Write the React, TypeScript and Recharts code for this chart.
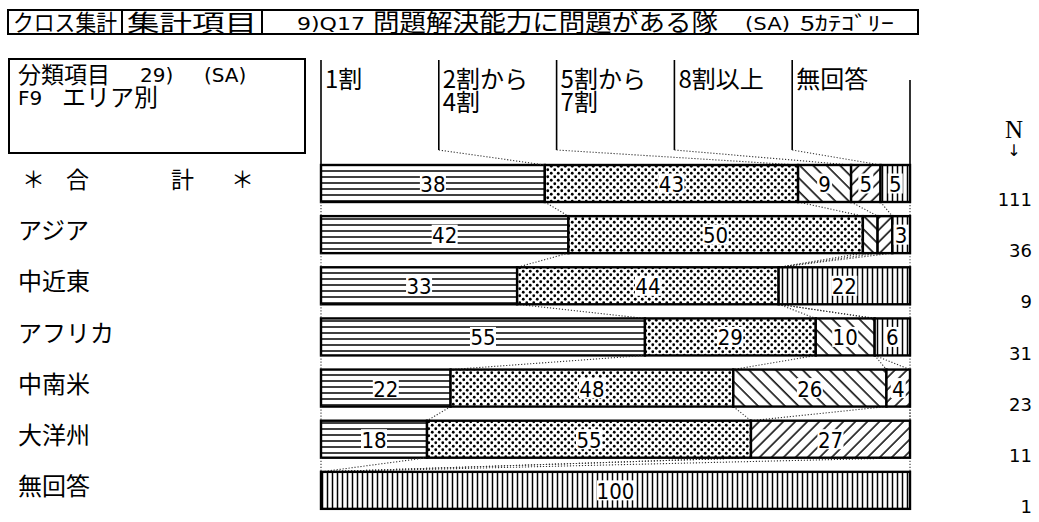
import React from 'react';
import { BarChart, Bar, XAxis, YAxis } from 'recharts';

// ---------- data ----------
const CATEGORIES = ['＊合計＊', 'アジア', '中近東', 'アフリカ', '中南米', '大洋州', '無回答'];
const N_VALUES = [111, 36, 9, 31, 23, 11, 1];
const SERIES = ['1割', '2割から4割', '5割から7割', '8割以上', '無回答'];
const S_1WARI = [38, 42, 33.3, 55, 22, 18, 0];
const S_2TO4 = [43, 50, 44.4, 29, 48, 55, 0];
const S_5TO7 = [9, 2.5, 0, 10, 26, 0, 0];
const S_8PLUS = [5, 2.5, 0, 0, 4, 27, 0];
const S_NA = [5, 3, 22.3, 6, 0, 0, 100];

const VALUES = [S_1WARI, S_2TO4, S_5TO7, S_8PLUS, S_NA];
const KEYS = SERIES.map((_, k) => `s${k}`);
const data = CATEGORIES.map((name, i) => {
  const row: any = { name, n: N_VALUES[i] };
  VALUES.forEach((arr, k) => {
    row[KEYS[k]] = arr[i];
  });
  return row;
});

// ---------- layout / style ----------
const W = 1039;
const H = 522;
const MARGIN = { top: 158, right: 129, bottom: 6, left: 0 };
const YAXIS_W = 321;
const BAR_SIZE = 37;
const BAND = (H - MARGIN.top - MARGIN.bottom) / CATEGORIES.length;
const LEGEND_TOP = 60;
const LEGEND_BOTTOM = 150;
const LEGEND_RIGHT_TOP = 80;

const JP = "'Noto Sans CJK JP', 'Noto Sans CJK SC', sans-serif";
const NUM = "'Liberation Sans Narrow', 'DejaVu Sans Condensed', 'Liberation Sans', sans-serif";
const MONO = "'DejaVu Sans', sans-serif";

const DOT = { stroke: '#333', strokeWidth: 1.1, strokeDasharray: '1.2 1.8', fill: 'none' };

function cumulative(row: any) {
  const c = [0];
  KEYS.forEach((k) => c.push(c[c.length - 1] + row[k]));
  return c;
}

function makeShape(k: number) {
  return function SegmentShape(props: any) {
    const { x, y, width, height, payload } = props;
    if (x == null || y == null || !payload) return null;
    const idx = CATEGORIES.indexOf(payload.name);
    const v = payload[KEYS[k]];
    const w = Math.max(0, width || 0);
    const els: any[] = [];
    els.push(
      <rect key="r" x={x} y={y} width={w} height={height} fill={`url(#pat${k})`} stroke="#000" strokeWidth={2.4} />
    );
    const showLabel = v > 0 && (v >= 4 || k === KEYS.length - 1);
    if (showLabel) {
      const txt = String(Math.round(v));
      const tw = txt.length * 11 + 4;
      const cx = x + w / 2;
      const cy = y + height / 2;
      els.push(<rect key="lb" x={cx - tw / 2} y={cy - 10} width={tw} height={20} fill="#fff" />);
      els.push(
        <text key="lt" x={cx} y={cy + 1} textAnchor="middle" dominantBaseline="central" fontFamily={NUM} fontSize={22} fill="#000">
          {txt}
        </text>
      );
    }
    if (k === 0 && v > 0) {
      const px = w / v;
      const x0 = x;
      const X = (p: number) => x0 + p * px;
      const cum = cumulative(payload);
      if (idx < CATEGORIES.length - 1) {
        const cn = cumulative(data[idx + 1]);
        cum.forEach((c, b) => {
          els.push(<line key={`c${b}`} x1={X(c)} y1={y + height} x2={X(cn[b])} y2={y + BAND} {...DOT} />);
        });
      }
      if (idx === 0) {
        const colW = 100 / SERIES.length;
        SERIES.forEach((name, c) => {
          const lx = X(c * colW);
          const bottom = c === 0 ? y : LEGEND_BOTTOM;
          els.push(<line key={`lv${c}`} x1={lx} y1={LEGEND_TOP} x2={lx} y2={bottom} stroke="#000" strokeWidth={1.6} />);
          if (c > 0) {
            els.push(<line key={`ld${c}`} x1={lx} y1={LEGEND_BOTTOM} x2={X(cum[c])} y2={y} {...DOT} />);
          }
          const pos = name.indexOf('から');
          const lines = pos >= 0 ? [name.slice(0, pos + 2), name.slice(pos + 2)] : [name];
          els.push(
            <text key={`lt${c}`} y={88} fontFamily={JP} fontSize={24} fill="#000">
              {lines.map((ln, j) => (
                <tspan key={j} x={lx + 4} dy={j === 0 ? 0 : 23}>
                  {ln}
                </tspan>
              ))}
            </text>
          );
        });
        els.push(
          <line key="lr" x1={X(100)} y1={LEGEND_RIGHT_TOP} x2={X(100)} y2={y} stroke="#000" strokeWidth={1.6} />
        );
      }
    }
    return <g>{els}</g>;
  };
}

const TOTAL_POS = [22, 66, 171, 231];

function RowTick(props: any) {
  const { y, payload } = props;
  const label = payload.value;
  const i = CATEGORIES.indexOf(label);
  const ty = y - 6;
  return (
    <g>
      {i === 0 ? (
        <text y={ty} dominantBaseline="central" fontFamily={JP} fontSize={23} fill="#000">
          {label.split('').map((ch: string, j: number) => (
            <tspan key={j} x={TOTAL_POS[j]}>
              {ch}
            </tspan>
          ))}
        </text>
      ) : (
        <text x={18} y={ty} dominantBaseline="central" fontFamily={JP} fontSize={24} fill="#000">
          {label}
        </text>
      )}
      <text x={1032} y={y + 16} textAnchor="end" dominantBaseline="central" fontFamily={MONO} fontSize={18} fill="#000">
        {N_VALUES[i]}
      </text>
    </g>
  );
}

function Patterns() {
  return (
    <svg width={0} height={0} style={{ position: 'absolute', left: 0, top: 0 }}>
      <defs>
        <pattern id="pat0" patternUnits="userSpaceOnUse" width={8} height={6}>
          <rect width={8} height={6} fill="#fff" />
          <line x1={0} y1={3} x2={8} y2={3} stroke="#000" strokeWidth={1.5} />
        </pattern>
        <pattern id="pat1" patternUnits="userSpaceOnUse" width={7} height={7}>
          <rect width={7} height={7} fill="#fff" />
          <circle cx={1.75} cy={1.75} r={1.4} fill="#000" />
          <circle cx={5.25} cy={5.25} r={1.4} fill="#000" />
        </pattern>
        <pattern id="pat2" patternUnits="userSpaceOnUse" width={9.5} height={9.5} patternTransform="rotate(-45)">
          <rect width={9.5} height={9.5} fill="#fff" />
          <line x1={2} y1={0} x2={2} y2={9.5} stroke="#000" strokeWidth={1.5} />
        </pattern>
        <pattern id="pat3" patternUnits="userSpaceOnUse" width={8.5} height={8.5} patternTransform="rotate(45)">
          <rect width={8.5} height={8.5} fill="#fff" />
          <line x1={2} y1={0} x2={2} y2={8.5} stroke="#000" strokeWidth={1.5} />
        </pattern>
        <pattern id="pat4" patternUnits="userSpaceOnUse" width={5} height={8}>
          <rect width={5} height={8} fill="#fff" />
          <line x1={2.5} y1={0} x2={2.5} y2={8} stroke="#000" strokeWidth={1.5} />
        </pattern>
      </defs>
    </svg>
  );
}

function Header() {
  const box = { fill: 'none', stroke: '#000', strokeWidth: 2 };
  return (
    <svg width={W} height={H} style={{ position: 'absolute', left: 0, top: 0, pointerEvents: 'none' }}>
      {/* title bar */}
      <rect x={8} y={10} width={114} height={24} {...box} />
      <text x={13} y={31} fontFamily={JP} fontSize={23} textLength={104} lengthAdjust="spacingAndGlyphs">
        クロス集計
      </text>
      <rect x={122} y={10} width={796} height={24} {...box} />
      <rect x={122} y={10} width={140} height={24} {...box} />
      <text x={127} y={31} fontFamily={JP} fontSize={23} textLength={130} lengthAdjust="spacingAndGlyphs">
        集計項目
      </text>
      <text x={297} y={30} fontFamily={MONO} fontSize={18} textLength={68} lengthAdjust="spacingAndGlyphs">
        9)Q17
      </text>
      <text x={373} y={31} fontFamily={JP} fontSize={24} textLength={345} lengthAdjust="spacingAndGlyphs">
        問題解決能力に問題がある隊
      </text>
      <text x={745} y={30} fontFamily={MONO} fontSize={17} textLength={45} lengthAdjust="spacingAndGlyphs">
        (SA)
      </text>
      <text x={800} y={31} fontFamily={JP} fontSize={20} textLength={94} lengthAdjust="spacingAndGlyphs">
        5ｶﾃｺﾞﾘｰ
      </text>
      {/* classification box */}
      <rect x={9} y={59} width={296} height={94} {...box} />
      <text fontFamily={JP} fontSize={23}>
        <tspan x={18} y={83}>分類項目</tspan>
        <tspan x={140} y={82} fontFamily={MONO} fontSize={20}>29)</tspan>
        <tspan x={204} y={82} fontFamily={MONO} fontSize={20}>(SA)</tspan>
        <tspan x={18} y={105} fontFamily={MONO} fontSize={20}>F9</tspan>
        <tspan x={62} y={106} fontSize={24}>エリア別</tspan>
      </text>
      {/* N header */}
      <text fontFamily={MONO} fontSize={16} textAnchor="middle">
        <tspan x={1014} y={138} fontFamily="'Liberation Serif', serif" fontSize={25}>N</tspan>
        <tspan x={1014} y={156}>↓</tspan>
      </text>
    </svg>
  );
}

export default function App() {
  return (
    <div style={{ position: 'absolute', left: 0, top: 0, width: W, height: H, background: '#fff' }}>
      <Patterns />
      <BarChart width={W} height={H} data={data} layout="vertical" margin={MARGIN} barSize={BAR_SIZE}>
        <XAxis type="number" domain={[0, 100]} hide />
        <YAxis
          type="category"
          dataKey="name"
          width={YAXIS_W}
          axisLine={false}
          tickLine={false}
          interval={0}
          tick={<RowTick />}
        />
        {KEYS.map((key, k) => (
          <Bar key={key} dataKey={key} name={SERIES[k]} stackId="a" fill={`url(#pat${k})`} isAnimationActive={false} shape={makeShape(k)} />
        ))}
      </BarChart>
      <Header />
    </div>
  );
}
